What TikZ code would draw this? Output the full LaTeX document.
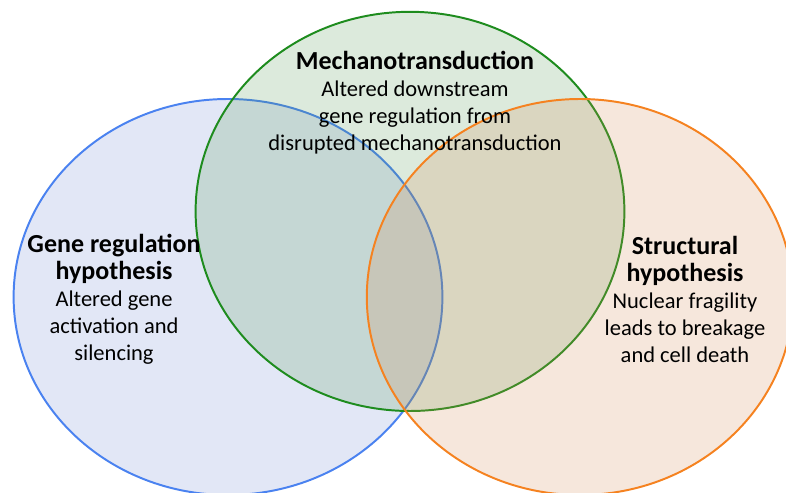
\documentclass[tikz,border=0pt]{standalone}
\usepackage{fontspec}
\setmainfont{Carlito}
\usepackage{tikz}
\usetikzlibrary{positioning}
\definecolor{genblue}{HTML}{4A82F0}
\definecolor{genfill}{HTML}{6E87D2}
\definecolor{mechgreen}{HTML}{1E8C1E}
\definecolor{mechfill}{HTML}{509650}
\definecolor{structorange}{HTML}{F58220}
\definecolor{structfill}{HTML}{D28750}
\newcommand{\hyphead}[1]{{\fontsize{18.5}{19.2}\selectfont\bfseries #1}}
\tikzset{
  % mängder
  setg/.style={draw=genblue,fill=genfill,fill opacity=0.2,line width=1.4pt},
  setm/.style={draw=mechgreen,fill=mechfill,fill opacity=0.2,line width=1.4pt},
  sets/.style={draw=structorange,fill=structfill,fill opacity=0.2,line width=1.4pt},
  % texter
  hyp/.style={align=center,inner sep=0pt,text=black,
              font=\fontsize{16}{19.2}\selectfont},
}
\begin{document}
\begin{tikzpicture}
\useasboundingbox (0,0) rectangle (19.65,12.325);
  \draw[setg] (5.7,4.9) ellipse (5.36 and 4.95);
  \draw[setm] (10.25,7.04) ellipse (5.36 and 4.99);
  \draw[sets] (14.5,4.9) ellipse (5.33 and 4.95);
  \node[hyp] (mech) at (10.375,9.76) {\hyphead{Mechanotransduction}\\Altered downstream\\gene regulation from\\disrupted mechanotransduction};
  \node[hyp] (gene) at (2.85,4.84) {\hyphead{Gene regulation}\\\hyphead{hypothesis}\\Altered gene\\activation and\\silencing};
  \node[hyp] (struct) at (17.125,4.85) {\hyphead{Structural}\\\hyphead{hypothesis}\\Nuclear fragility\\leads to breakage\\and cell death};
\end{tikzpicture}
\end{document}
